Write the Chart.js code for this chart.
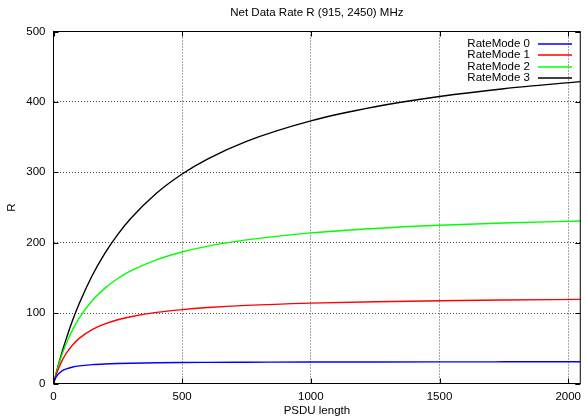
<!DOCTYPE html>
<html>
<head>
<meta charset="utf-8">
<script src="https://cdn.jsdelivr.net/npm/chart.js@4.4.1/dist/chart.umd.min.js"></script>
<style>
  html, body { margin: 0; padding: 0; background: #fff; }
  #wrap { width: 587px; height: 420px; }
</style>
</head>
<body>
<div id="wrap"><canvas id="rate-chart" width="587" height="420"></canvas></div>
<script>
// values
const psduLength = [0, 5, 10, 20, 30, 40, 50, 75, 100, 150, 200, 250, 300, 400, 500, 600, 750, 1000, 1250, 1500, 1750, 2047];
const rateMode0 = [0, 5.2, 8.9, 13.9, 17.0, 19.2, 20.8, 23.4, 25.0, 26.8, 27.8, 28.4, 28.8, 29.4, 29.8, 30.0, 30.2, 30.5, 30.6, 30.7, 30.8, 30.9];
const rateMode1 = [0, 6.2, 11.9, 21.7, 30.0, 37.0, 43.1, 55.1, 64.1, 76.5, 84.7, 90.6, 94.9, 101.0, 105.0, 107.9, 111.0, 114.2, 116.2, 117.5, 118.6, 119.5];
const rateMode2 = [0, 7.2, 14.0, 26.5, 37.7, 47.8, 57.1, 76.8, 92.9, 117.5, 135.5, 149.2, 159.9, 175.7, 186.8, 195.1, 204.0, 213.9, 220.2, 224.7, 228.0, 230.9];
const rateMode3 = [0, 7.2, 14.3, 27.8, 40.5, 52.6, 64.1, 90.4, 113.6, 153.1, 185.2, 211.9, 234.4, 270.3, 297.6, 319.1, 344.0, 373.1, 393.1, 407.6, 418.7, 428.8];

const seriesLabels = ['RateMode 0', 'RateMode 1', 'RateMode 2', 'RateMode 3'];
const seriesColors = ['#0000ff', '#ff0000', '#00ff00', '#000000'];
const seriesValues = [rateMode0, rateMode1, rateMode2, rateMode3];

const xTicks = [0, 500, 1000, 1500, 2000];
const yTicks = [0, 100, 200, 300, 400, 500];

const chartTitle = 'Net Data Rate R (915, 2450) MHz';
const FONT = '"Liberation Sans", Arial, Helvetica, sans-serif';

// gnuplot-like frame, inward ticks, title and key
const gnuplotDecor = {
  id: 'gnuplotDecor',
  afterDatasetsDraw(chart) {
    const { ctx, chartArea: a, scales } = chart;
    ctx.save();
    ctx.strokeStyle = '#000';
    ctx.lineWidth = 1;
    ctx.setLineDash([]);
    ctx.strokeRect(a.left, a.top, a.right - a.left, a.bottom - a.top);

    const tl = 5;
    ctx.beginPath();
    xTicks.forEach(v => {
      const px = Math.round(scales.x.getPixelForValue(v)) + 0.5;
      ctx.moveTo(px, a.bottom); ctx.lineTo(px, a.bottom - tl);
      ctx.moveTo(px, a.top); ctx.lineTo(px, a.top + tl);
    });
    yTicks.forEach(v => {
      const py = Math.round(scales.y.getPixelForValue(v)) + 0.5;
      ctx.moveTo(a.left, py); ctx.lineTo(a.left + tl, py);
      ctx.moveTo(a.right, py); ctx.lineTo(a.right - tl, py);
    });
    ctx.stroke();

    ctx.fillStyle = '#000';
    ctx.font = '11.5px ' + FONT;
    ctx.textBaseline = 'middle';
    ctx.textAlign = 'center';
    ctx.fillText(chartTitle, (a.left + a.right) / 2, 13);

    // key, top right inside the plot
    ctx.textAlign = 'right';
    chart.data.datasets.forEach((ds, i) => {
      const y = 43.5 + i * 11.5;
      ctx.fillStyle = '#000';
      ctx.fillText(ds.label, 530, y);
      ctx.strokeStyle = ds.borderColor;
      ctx.lineWidth = 1.5;
      ctx.beginPath();
      ctx.moveTo(538, Math.round(y));
      ctx.lineTo(572, Math.round(y));
      ctx.stroke();
    });
    ctx.restore();
  }
};

const ctx = document.getElementById('rate-chart').getContext('2d');

new Chart(ctx, {
  type: 'line',
  data: {
    datasets: seriesValues.map((vals, i) => ({
      label: seriesLabels[i],
      data: psduLength.map((x, j) => ({ x, y: vals[j] })),
      borderColor: seriesColors[i],
      backgroundColor: seriesColors[i],
      borderWidth: 1.4,
      pointRadius: 0,
      cubicInterpolationMode: 'monotone',
      fill: false,
    })),
  },
  options: {
    responsive: false,
    animation: false,
    devicePixelRatio: 1,
    layout: { padding: { left: 0, right: 1.5, top: 31.5, bottom: 0 } },
    scales: {
      x: {
        type: 'linear',
        min: 0,
        max: 2047,
        afterBuildTicks: (scale) => { scale.ticks = xTicks.map(v => ({ value: v })); },
        afterFit: (scale) => { scale.height = 36.5; },
        grid: { color: 'rgba(0,0,0,0.7)', lineWidth: 1, drawTicks: false },
        border: { display: false, dash: [1, 2] },
        ticks: { color: '#000', padding: 6, maxRotation: 0, callback: (v) => String(v), font: { family: FONT, size: 11.5 } },
        title: { display: true, text: 'PSDU length', color: '#000', padding: { top: 0, bottom: 2.4 }, font: { family: FONT, size: 11.5 } },
      },
      y: {
        type: 'linear',
        min: 0,
        max: 500,
        afterBuildTicks: (scale) => { scale.ticks = yTicks.map(v => ({ value: v })); },
        afterFit: (scale) => { scale.width = 53.5; },
        grid: { color: 'rgba(0,0,0,0.7)', lineWidth: 1, drawTicks: false },
        border: { display: false, dash: [1, 2] },
        ticks: { color: '#000', padding: 8, callback: (v) => String(v), font: { family: FONT, size: 11.5 } },
        title: { display: true, text: 'R', color: '#000', padding: { top: 5.4, bottom: 0 }, font: { family: FONT, size: 11.5 } },
      },
    },
    plugins: {
      legend: { display: false },
      title: { display: false },
      tooltip: { enabled: false },
    },
  },
  plugins: [gnuplotDecor],
});
</script>
</body>
</html>
